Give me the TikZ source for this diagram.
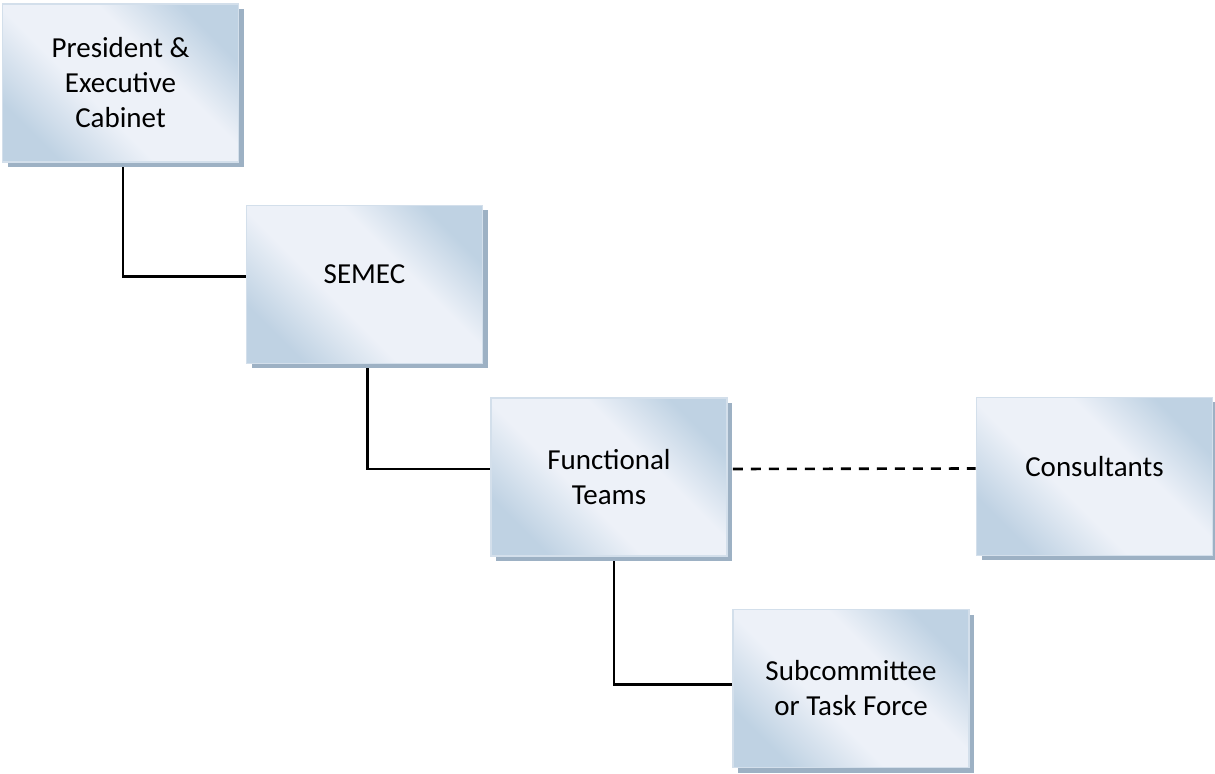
\documentclass[tikz,border=0pt]{standalone}
\usepackage{fontspec}
\setmainfont{Carlito}
\usetikzlibrary{shadows, backgrounds}
\definecolor{boxdark}{HTML}{BFD2E3}
\definecolor{boxlight}{HTML}{EDF1F8}
\definecolor{boxline}{HTML}{D3DFEB}
\definecolor{shadowblue}{HTML}{9DB1C4}
\pgfdeclareverticalshading{orgshade}{100bp}{color(0bp)=(boxdark); color(25bp)=(boxdark);
  color(42bp)=(boxlight); color(60bp)=(boxlight); color(75bp)=(boxdark); color(100bp)=(boxdark)}
\tikzset{
  orgbox/.style={draw=boxline, line width=0.8pt,
    shading=orgshade, shading angle=-45,
    minimum width=118pt, minimum height=79pt, align=center,
    font=\fontsize{14.5}{17.5}\selectfont,
    drop shadow={shadow xshift=2.5pt, shadow yshift=-2.5pt, fill=shadowblue, opacity=1}},
  link/.style={black, line width=1.3pt},
}

\begin{document}
\begin{tikzpicture}[x=0.5pt,y=-0.5pt]
\useasboundingbox (0,0) rectangle (1215,774);
\node[orgbox] (pres) at (120.5, 83) {President \&\\Executive\\Cabinet};
\node[orgbox] (semec) at (364.5, 284.5) {SEMEC\\[-7.5pt]};
\node[orgbox] (teams) at (609, 477) {Functional\\Teams};
\node[orgbox] (cons) at (1094.5, 476.5) {Consultants\\[-7.5pt]};
\node[orgbox] (sub) at (851, 688.5) {Subcommittee\\or Task Force};

\begin{scope}[on background layer]
\draw[link] ([xshift=1.25pt]pres.south) |- ([yshift=4pt]semec.west);
\draw[link] ([xshift=1.5pt]semec.south) |- ([yshift=4pt]teams.west);
\draw[link] ([xshift=2.5pt]teams.south) |- ([yshift=2pt]sub.west);
\end{scope}
\draw[link, dash pattern=on 5pt off 4pt] ([xshift=2.5pt,yshift=4pt]teams.east) -- ([yshift=4pt]cons.west);
\end{tikzpicture}
\end{document}
